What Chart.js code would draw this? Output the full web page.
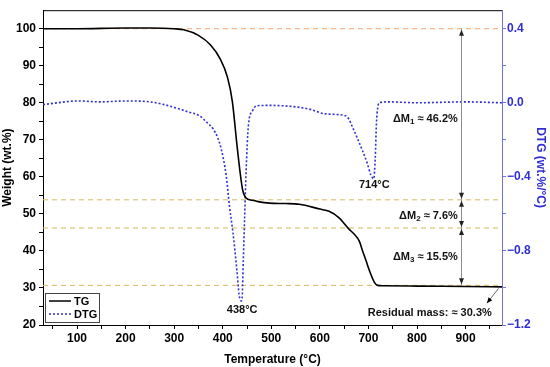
<!DOCTYPE html>
<html>
<head>
<meta charset="utf-8">
<script src="https://cdn.jsdelivr.net/npm/chart.js@4/dist/chart.umd.min.js"></script>
<style>
  html, body { margin: 0; padding: 0; background: #fff; }
  #wrap { width: 550px; height: 367px; }
</style>
</head>
<body>
<div id="wrap"><canvas id="tga"></canvas></div>
<script>
// --- Data ---
const tgTemp = [30, 100, 200, 250, 300, 320, 350, 375, 395, 410, 420, 429, 436, 441, 448, 460, 470, 496, 530, 558, 600, 619, 639, 660, 671, 681, 688, 695, 702, 712, 719, 730, 800, 900, 975];
const tgWeight = [100.0, 100.0, 100.2, 100.2, 100.0, 99.7, 98.2, 95.6, 91.8, 86.8, 80.2, 69.0, 61.0, 56.5, 54.3, 53.7, 53.4, 52.9, 52.8, 52.6, 51.3, 50.7, 49.0, 45.9, 44.5, 42.7, 40.0, 37.4, 34.7, 31.6, 30.7, 30.6, 30.5, 30.4, 30.3];

const dtgTemp = [30, 60, 100, 150, 200, 250, 280, 311, 330, 352, 365, 380, 390, 397, 407, 414, 421, 429, 434, 438, 440, 442.5, 445, 448, 453, 461, 470, 500, 523, 550, 578, 612, 653, 660, 667, 677, 688, 698, 705, 711, 714, 716.5, 719, 722, 740, 800, 900, 975];
const dtgRate = [-0.01, 0.0, 0.01, 0.005, 0.01, 0.005, -0.01, -0.034, -0.05, -0.07, -0.1, -0.14, -0.19, -0.25, -0.39, -0.56, -0.70, -0.90, -1.04, -1.07, -1.05, -0.84, -0.63, -0.38, -0.12, -0.045, -0.016, -0.014, -0.016, -0.022, -0.034, -0.06, -0.07, -0.09, -0.13, -0.19, -0.26, -0.33, -0.39, -0.41, -0.30, -0.11, -0.03, 0.0, 0.005, 0.0, 0.005, 0.0];

const levelMass = [100, 53.8, 46.2, 30.7];   // reference lines (wt.%)
const stepLabels = ['46.2%', '7.6%', '15.5%'];
const residualLabel = 'Residual mass: \u2248 30.3%';
const peakTemps = [438, 714];

const xTicks = [50, 100, 150, 200, 250, 300, 350, 400, 450, 500, 550, 600, 650, 700, 750, 800, 850, 900, 950];
const yTicks = [20, 25, 30, 35, 40, 45, 50, 55, 60, 65, 70, 75, 80, 85, 90, 95, 100];
const y1Ticks = [-1.2, -1.0, -0.8, -0.6, -0.4, -0.2, 0.0, 0.2, 0.4];

// --- Styles ---
const FONT = "'Liberation Sans', Arial, sans-serif";
const BLUE = '#2f2fd2';
const BLUE_AXIS = '#7373dc';
const TOP_LINE = '#f5a36c';
const MID_LINE = '#d5b95c';

const pts = (xs, ys) => xs.map((x, i) => ({ x: x, y: ys[i] }));

const levelSets = levelMass.map((m, i) => ({
    data: [{ x: 30, y: m }, { x: 975, y: m }],
    yAxisID: 'y',
    borderColor: i === 0 ? TOP_LINE : MID_LINE,
    borderWidth: 1,
    borderDash: [5, 4],
    pointRadius: 0,
    order: 5
}));

// annotation anchors (data coords)
const arrowT = 890;
const notePos = {
    dmRightT: 884,
    dmW: [75.6, 49.4, 38.3],
    residualT: 954, residualW: 23.2,
    peakW: [24.0, 57.9],
    peakT: [440, 712],
    resArrow: [[944, 25.9], [968, 29.9]]
};

function arrowHead(ctx, x, y, dir) {
    // dir: +1 points down, -1 points up
    ctx.beginPath();
    ctx.moveTo(x, y);
    ctx.lineTo(x - 2.5, y - dir * 6);
    ctx.lineTo(x + 2.5, y - dir * 6);
    ctx.closePath();
    ctx.fill();
}

const annotations = {
    id: 'annotations',
    afterDatasetsDraw(chart) {
        const { ctx, chartArea, scales } = chart;
        const xs = scales.x, ys = scales.y;
        ctx.save();

        // top frame
        ctx.strokeStyle = '#000';
        ctx.lineWidth = 1;
        ctx.beginPath();
        ctx.moveTo(chartArea.left, chartArea.top + 0.5);
        ctx.lineTo(chartArea.right, chartArea.top + 0.5);
        ctx.stroke();

        // vertical mass-loss arrows
        const ax = Math.round(xs.getPixelForValue(arrowT)) + 0.5;
        ctx.strokeStyle = '#8c8c8c';
        ctx.beginPath();
        ctx.moveTo(ax, ys.getPixelForValue(levelMass[0]));
        ctx.lineTo(ax, ys.getPixelForValue(levelMass[levelMass.length - 1]));
        ctx.stroke();
        ctx.fillStyle = '#222';
        for (let i = 0; i < levelMass.length - 1; i++) {
            const a = ys.getPixelForValue(levelMass[i]);
            const b = ys.getPixelForValue(levelMass[i + 1]);
            arrowHead(ctx, ax, a + 1, -1);
            arrowHead(ctx, ax, b - 1, 1);
        }

        // residual pointer
        const r0 = notePos.resArrow[0], r1 = notePos.resArrow[1];
        const p0x = xs.getPixelForValue(r0[0]), p0y = ys.getPixelForValue(r0[1]);
        const p1x = xs.getPixelForValue(r1[0]), p1y = ys.getPixelForValue(r1[1]);
        ctx.strokeStyle = '#666';
        ctx.beginPath();
        ctx.moveTo(p0x, p0y);
        ctx.lineTo(p1x, p1y);
        ctx.stroke();
        const ang = Math.atan2(p0y - p1y, p0x - p1x);
        ctx.fillStyle = '#000';
        ctx.beginPath();
        ctx.moveTo(p0x, p0y);
        ctx.lineTo(p0x - 6 * Math.cos(ang - 0.4), p0y - 6 * Math.sin(ang - 0.4));
        ctx.lineTo(p0x - 6 * Math.cos(ang + 0.4), p0y - 6 * Math.sin(ang + 0.4));
        ctx.closePath();
        ctx.fill();

        // delta M labels
        ctx.fillStyle = '#111';
        ctx.textBaseline = 'middle';
        const big = 'bold 11px ' + FONT, small = 'bold 8px ' + FONT;
        stepLabels.forEach((txt, i) => {
            const right = xs.getPixelForValue(notePos.dmRightT);
            const y = ys.getPixelForValue(notePos.dmW[i]);
            const rest = ' \u2248 ' + txt;
            ctx.font = big;
            const wA = ctx.measureText('\u0394M').width;
            const wR = ctx.measureText(rest).width;
            ctx.font = small;
            const wS = ctx.measureText(String(i + 1)).width;
            let x = right - wA - wS - wR;
            ctx.textAlign = 'left';
            ctx.font = big;
            ctx.fillText('\u0394M', x, y);
            ctx.font = small;
            ctx.fillText(String(i + 1), x + wA, y + 3);
            ctx.font = big;
            ctx.fillText(rest, x + wA + wS, y);
        });

        ctx.font = big;
        ctx.textAlign = 'right';
        ctx.fillText(residualLabel, xs.getPixelForValue(notePos.residualT), ys.getPixelForValue(notePos.residualW));

        ctx.textAlign = 'center';
        peakTemps.forEach((t, i) => {
            ctx.fillText(t + '\u00b0C', xs.getPixelForValue(notePos.peakT[i]), ys.getPixelForValue(notePos.peakW[i]));
        });

        // legend box
        const items = chart.data.datasets.filter(d => d.label);
        const lx = chartArea.left + 2, ly = chartArea.bottom - 32;
        ctx.fillStyle = '#fff';
        ctx.fillRect(lx, ly, 54, 29);
        ctx.strokeStyle = '#444';
        ctx.strokeRect(lx + 0.5, ly + 0.5, 54, 29);
        items.forEach((d, i) => {
            const y = ly + 8 + i * 13;
            ctx.strokeStyle = d.borderColor;
            ctx.lineWidth = 1.5;
            ctx.setLineDash(d.borderDash || []);
            ctx.beginPath();
            ctx.moveTo(lx + 4, y);
            ctx.lineTo(lx + 26, y);
            ctx.stroke();
            ctx.setLineDash([]);
            ctx.fillStyle = '#000';
            ctx.textAlign = 'left';
            ctx.font = 'bold 11px ' + FONT;
            ctx.fillText(d.label, lx + 29, y + 1);
        });

        ctx.restore();
    }
};

new Chart(document.getElementById('tga'), {
    type: 'line',
    data: {
        datasets: [
            {
                label: 'TG',
                data: pts(tgTemp, tgWeight),
                yAxisID: 'y',
                borderColor: '#000',
                borderWidth: 1.6,
                pointRadius: 0,
                cubicInterpolationMode: 'monotone',
                order: 1
            },
            {
                label: 'DTG',
                data: pts(dtgTemp, dtgRate),
                yAxisID: 'y1',
                borderColor: BLUE,
                borderWidth: 1.6,
                borderDash: [2, 2],
                pointRadius: 0,
                cubicInterpolationMode: 'monotone',
                order: 2
            },
            ...levelSets
        ]
    },
    options: {
        responsive: true,
        maintainAspectRatio: false,
        animation: false,
        layout: { padding: { top: 8, left: 0, right: 0, bottom: 0 } },
        plugins: { legend: { display: false }, tooltip: { enabled: false } },
        scales: {
            x: {
                type: 'linear',
                min: 30,
                max: 975,
                afterBuildTicks: s => { s.ticks = xTicks.map(v => ({ value: v })); },
                afterFit: s => { s.height = 42; },
                ticks: {
                    autoSkip: false,
                    maxRotation: 0,
                    padding: 2,
                    color: '#000',
                    font: { family: FONT, size: 12, weight: 'bold' },
                    callback: v => (v % 100 === 0 ? v : '')
                },
                grid: { drawOnChartArea: false, tickLength: 4, color: '#000' },
                border: { color: '#000', width: 1 },
                title: {
                    display: true,
                    text: 'Temperature (\u00b0C)',
                    color: '#000',
                    padding: { top: 2, bottom: 0 },
                    font: { family: FONT, size: 12, weight: 'bold' }
                }
            },
            y: {
                position: 'left',
                min: 20,
                max: 105,
                afterBuildTicks: s => { s.ticks = yTicks.map(v => ({ value: v })); },
                afterFit: s => { s.width = 43; },
                ticks: {
                    autoSkip: false,
                    padding: 3,
                    color: '#000',
                    font: { family: FONT, size: 12, weight: 'bold' },
                    callback: v => (v % 10 === 0 ? v : '')
                },
                grid: { drawOnChartArea: false, tickLength: 4, color: '#000' },
                border: { color: '#000', width: 1 },
                title: {
                    display: true,
                    text: 'Weight (wt.%)',
                    color: '#000',
                    padding: { top: 0, bottom: 2 },
                    font: { family: FONT, size: 12, weight: 'bold' }
                }
            },
            y1: {
                position: 'right',
                min: -1.2,
                max: 0.5,
                afterBuildTicks: s => { s.ticks = y1Ticks.map(v => ({ value: v })); },
                afterFit: s => { s.width = 48; },
                ticks: {
                    autoSkip: false,
                    padding: 1,
                    crossAlign: 'near',
                    color: BLUE,
                    font: { family: FONT, size: 12, weight: 'bold' },
                    callback: v => {
                        const k = Math.round(v * 10);
                        if (k % 4 !== 0) return '';
                        return (k < 0 ? '\u2212' : '') + Math.abs(v).toFixed(1);
                    }
                },
                grid: { drawOnChartArea: false, tickLength: 4, color: BLUE_AXIS },
                border: { color: BLUE_AXIS, width: 1 },
                title: {
                    display: true,
                    text: 'DTG (wt.%/\u00b0C)',
                    color: BLUE,
                    padding: { top: 2, bottom: 0 },
                    font: { family: FONT, size: 12, weight: 'bold' }
                }
            }
        }
    },
    plugins: [annotations]
});
</script>
</body>
</html>
